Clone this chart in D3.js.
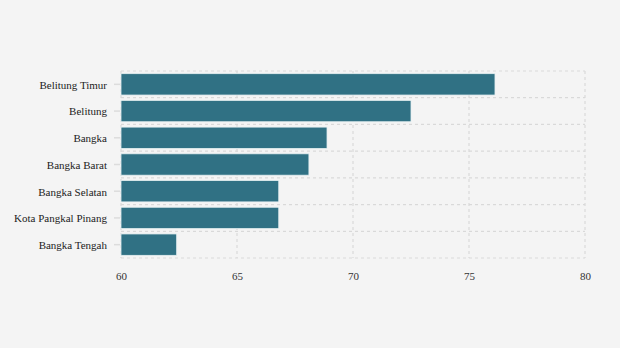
<!DOCTYPE html>
<html>
<head>
<meta charset="utf-8">
<script src="https://cdn.jsdelivr.net/npm/d3@7"></script>
<style>
  html, body { margin: 0; padding: 0; background: #f4f4f4; }
  svg { display: block; }
</style>
</head>
<body>
<svg id="chart" width="620" height="348"></svg>
<script>
// Regencies / cities of Bangka Belitung and their values
const categories = ["Belitung Timur", "Belitung", "Bangka", "Bangka Barat", "Bangka Selatan", "Kota Pangkal Pinang", "Bangka Tengah"];
const values = [76.12, 72.5, 68.88, 68.1, 66.8, 66.8, 62.4];
const xTicks = [60, 65, 70, 75, 80];

const width = 620, height = 348;
const margin = { top: 71, right: 35, bottom: 90, left: 121 };

const svg = d3.select("#chart");
svg.append("rect").attr("width", width).attr("height", height).attr("fill", "#f4f4f4");

const x = d3.scaleLinear().domain([60, 80]).range([margin.left, width - margin.right]);
const y = d3.scaleBand().domain(categories).range([margin.top, height - margin.bottom])
  .paddingInner(0.2).paddingOuter(0.1);

const gridColor = "#d9d9d9";
const grid = svg.append("g").attr("stroke", gridColor).attr("stroke-width", 1.2)
  .attr("stroke-dasharray", "3,3").attr("fill", "none");

// vertical grid lines at ticks
grid.selectAll("line.v").data(xTicks).join("line")
  .attr("x1", d => x(d)).attr("x2", d => x(d))
  .attr("y1", margin.top).attr("y2", height - margin.bottom);

// horizontal grid lines at band boundaries
const step = y.step();
const [r0, r1] = y.range();
const hLines = d3.range(categories.length + 1).map(i => r0 + i * step);
hLines[hLines.length - 1] = r1;
grid.selectAll("line.h").data(hLines).join("line")
  .attr("x1", margin.left).attr("x2", width - margin.right)
  .attr("y1", d => d).attr("y2", d => d);

// bars
svg.append("g").selectAll("rect").data(categories).join("rect")
  .attr("x", x(60))
  .attr("y", d => y(d))
  .attr("width", (d, i) => x(values[i]) - x(60))
  .attr("height", y.bandwidth())
  .attr("fill", "#307184")
  .attr("stroke", "#e6f0f2")
  .attr("stroke-width", 0.8);

const serif = "'Liberation Serif', 'Times New Roman', serif";

// y axis
const yAxis = svg.append("g").attr("transform", `translate(${margin.left - 1},0)`)
  .call(d3.axisLeft(y).tickSize(6).tickPadding(7));
yAxis.attr("font-family", serif);
yAxis.select(".domain").remove();
yAxis.selectAll(".tick line").attr("stroke", "#dcdcdc").attr("stroke-width", 1.5);
yAxis.selectAll(".tick text")
  .style("font-family", serif)
  .attr("font-size", 11).attr("dy", "0.4em").attr("fill", "#222");

// x axis
const xAxis = svg.append("g").attr("transform", `translate(0,${height - margin.bottom})`)
  .call(d3.axisBottom(x).tickValues(xTicks).tickSize(0).tickPadding(14));
xAxis.attr("font-family", serif);
xAxis.select(".domain").remove();
xAxis.selectAll(".tick text")
  .style("font-family", serif)
  .attr("font-size", 11).attr("fill", "#333");
</script>
</body>
</html>
